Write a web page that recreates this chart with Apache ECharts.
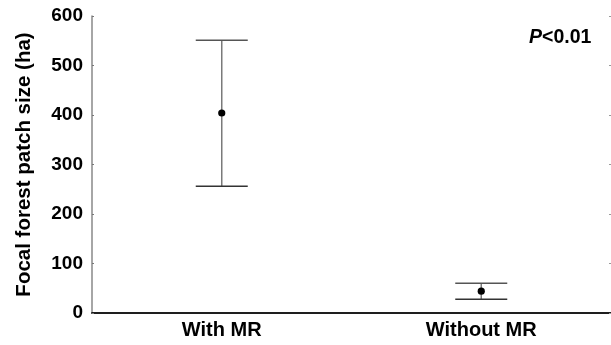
<!DOCTYPE html>
<html>
<head>
<meta charset="utf-8">
<script src="https://cdn.jsdelivr.net/npm/echarts@6/dist/echarts.min.js"></script>
<style>
  html, body { margin: 0; padding: 0; background: #fff; }
  #chart { width: 611px; height: 345px; }
</style>
</head>
<body>
<div id="chart"></div>
<script>
// groups and error bar values (ha)
var categories = ["With MR", "Without MR"]
var means = [404, 44]
var upper = [551, 60]
var lower = [256, 28]
var yTicks = [0, 100, 200, 300, 400, 500, 600]

var font = "Liberation Sans, Arial, sans-serif"
var chart = echarts.init(document.getElementById("chart"))

var data = categories.map(function(c, i) { return [i, means[i], lower[i], upper[i]] })

function renderBar(params, api) {
	var x = api.value(0), lo = api.coord([x, api.value(2)]), hi = api.coord([x, api.value(3)]), mid = api.coord([x, api.value(1)])
	var half = 26
	return {type: "group", children: [
		{type: "line", shape: {x1: hi[0], y1: hi[1], x2: lo[0], y2: lo[1]}, style: {stroke: "#7a7a7a", lineWidth: 1.5}},
		{type: "line", shape: {x1: hi[0]-half, y1: hi[1], x2: hi[0]+half, y2: hi[1]}, style: {stroke: "#555", lineWidth: 1.5}},
		{type: "line", shape: {x1: lo[0]-half, y1: lo[1], x2: lo[0]+half, y2: lo[1]}, style: {stroke: "#333", lineWidth: 1.5}},
		{type: "circle", shape: {cx: mid[0], cy: mid[1], r: 3.6}, style: {fill: "#000"}}
	]}
}

var option = {
	animation: false,
	grid: {left: 92, top: 16, width: 520, height: 297},
	xAxis: [
		{type: "category", data: categories, position: "bottom", boundaryGap: true,
			axisLine: {lineStyle: {color: "#111", width: 1.5}},
			axisTick: {inside: true, length: 3, alignWithLabel: true, lineStyle: {color: "#666"}},
			axisLabel: {color: "#000", fontFamily: font, fontWeight: "bold", fontSize: 20, margin: 7}},
		{type: "category", data: categories, position: "top", boundaryGap: true,
			axisLine: {lineStyle: {color: "#111", width: 1.5}},
			axisTick: {inside: true, length: 3, alignWithLabel: true, lineStyle: {color: "#666"}},
			axisLabel: {show: false}}
	],
	yAxis: [
		{type: "value", min: 0, max: 600, interval: 100, position: "left",
			name: "Focal forest patch size (ha)", nameLocation: "middle", nameGap: 57,
			nameTextStyle: {color: "#000", fontFamily: font, fontWeight: "bold", fontSize: 20.5},
			axisLine: {show: true, lineStyle: {color: "#888", width: 1.5}},
			axisTick: {show: true, inside: true, length: 2, lineStyle: {color: "#777"}},
			axisLabel: {color: "#000", fontFamily: font, fontWeight: "bold", fontSize: 19, margin: 9,
				formatter: function(v) { return yTicks.indexOf(v) >= 0 ? String(v) : "" }},
			splitLine: {show: false}},
		{type: "value", min: 0, max: 600, interval: 100, position: "right",
			axisLine: {show: false},
			axisTick: {show: true, inside: true, length: 2, lineStyle: {color: "#999"}},
			axisLabel: {show: false}, splitLine: {show: false}}
	],
	graphic: [{type: "text", left: 529, top: 28,
		style: {text: "{i|P}{n|<0.01}", rich: {
			i: {fontFamily: font, fontWeight: "bold", fontStyle: "italic", fontSize: 19.5, fill: "#000"},
			n: {fontFamily: font, fontWeight: "bold", fontSize: 19.5, fill: "#000"}}}}],
	series: [{type: "custom", renderItem: renderBar, data: data, xAxisIndex: 0, yAxisIndex: 0,
		encode: {x: 0, y: [1, 2, 3]}}]
}
chart.setOption(option)
</script>
</body>
</html>
